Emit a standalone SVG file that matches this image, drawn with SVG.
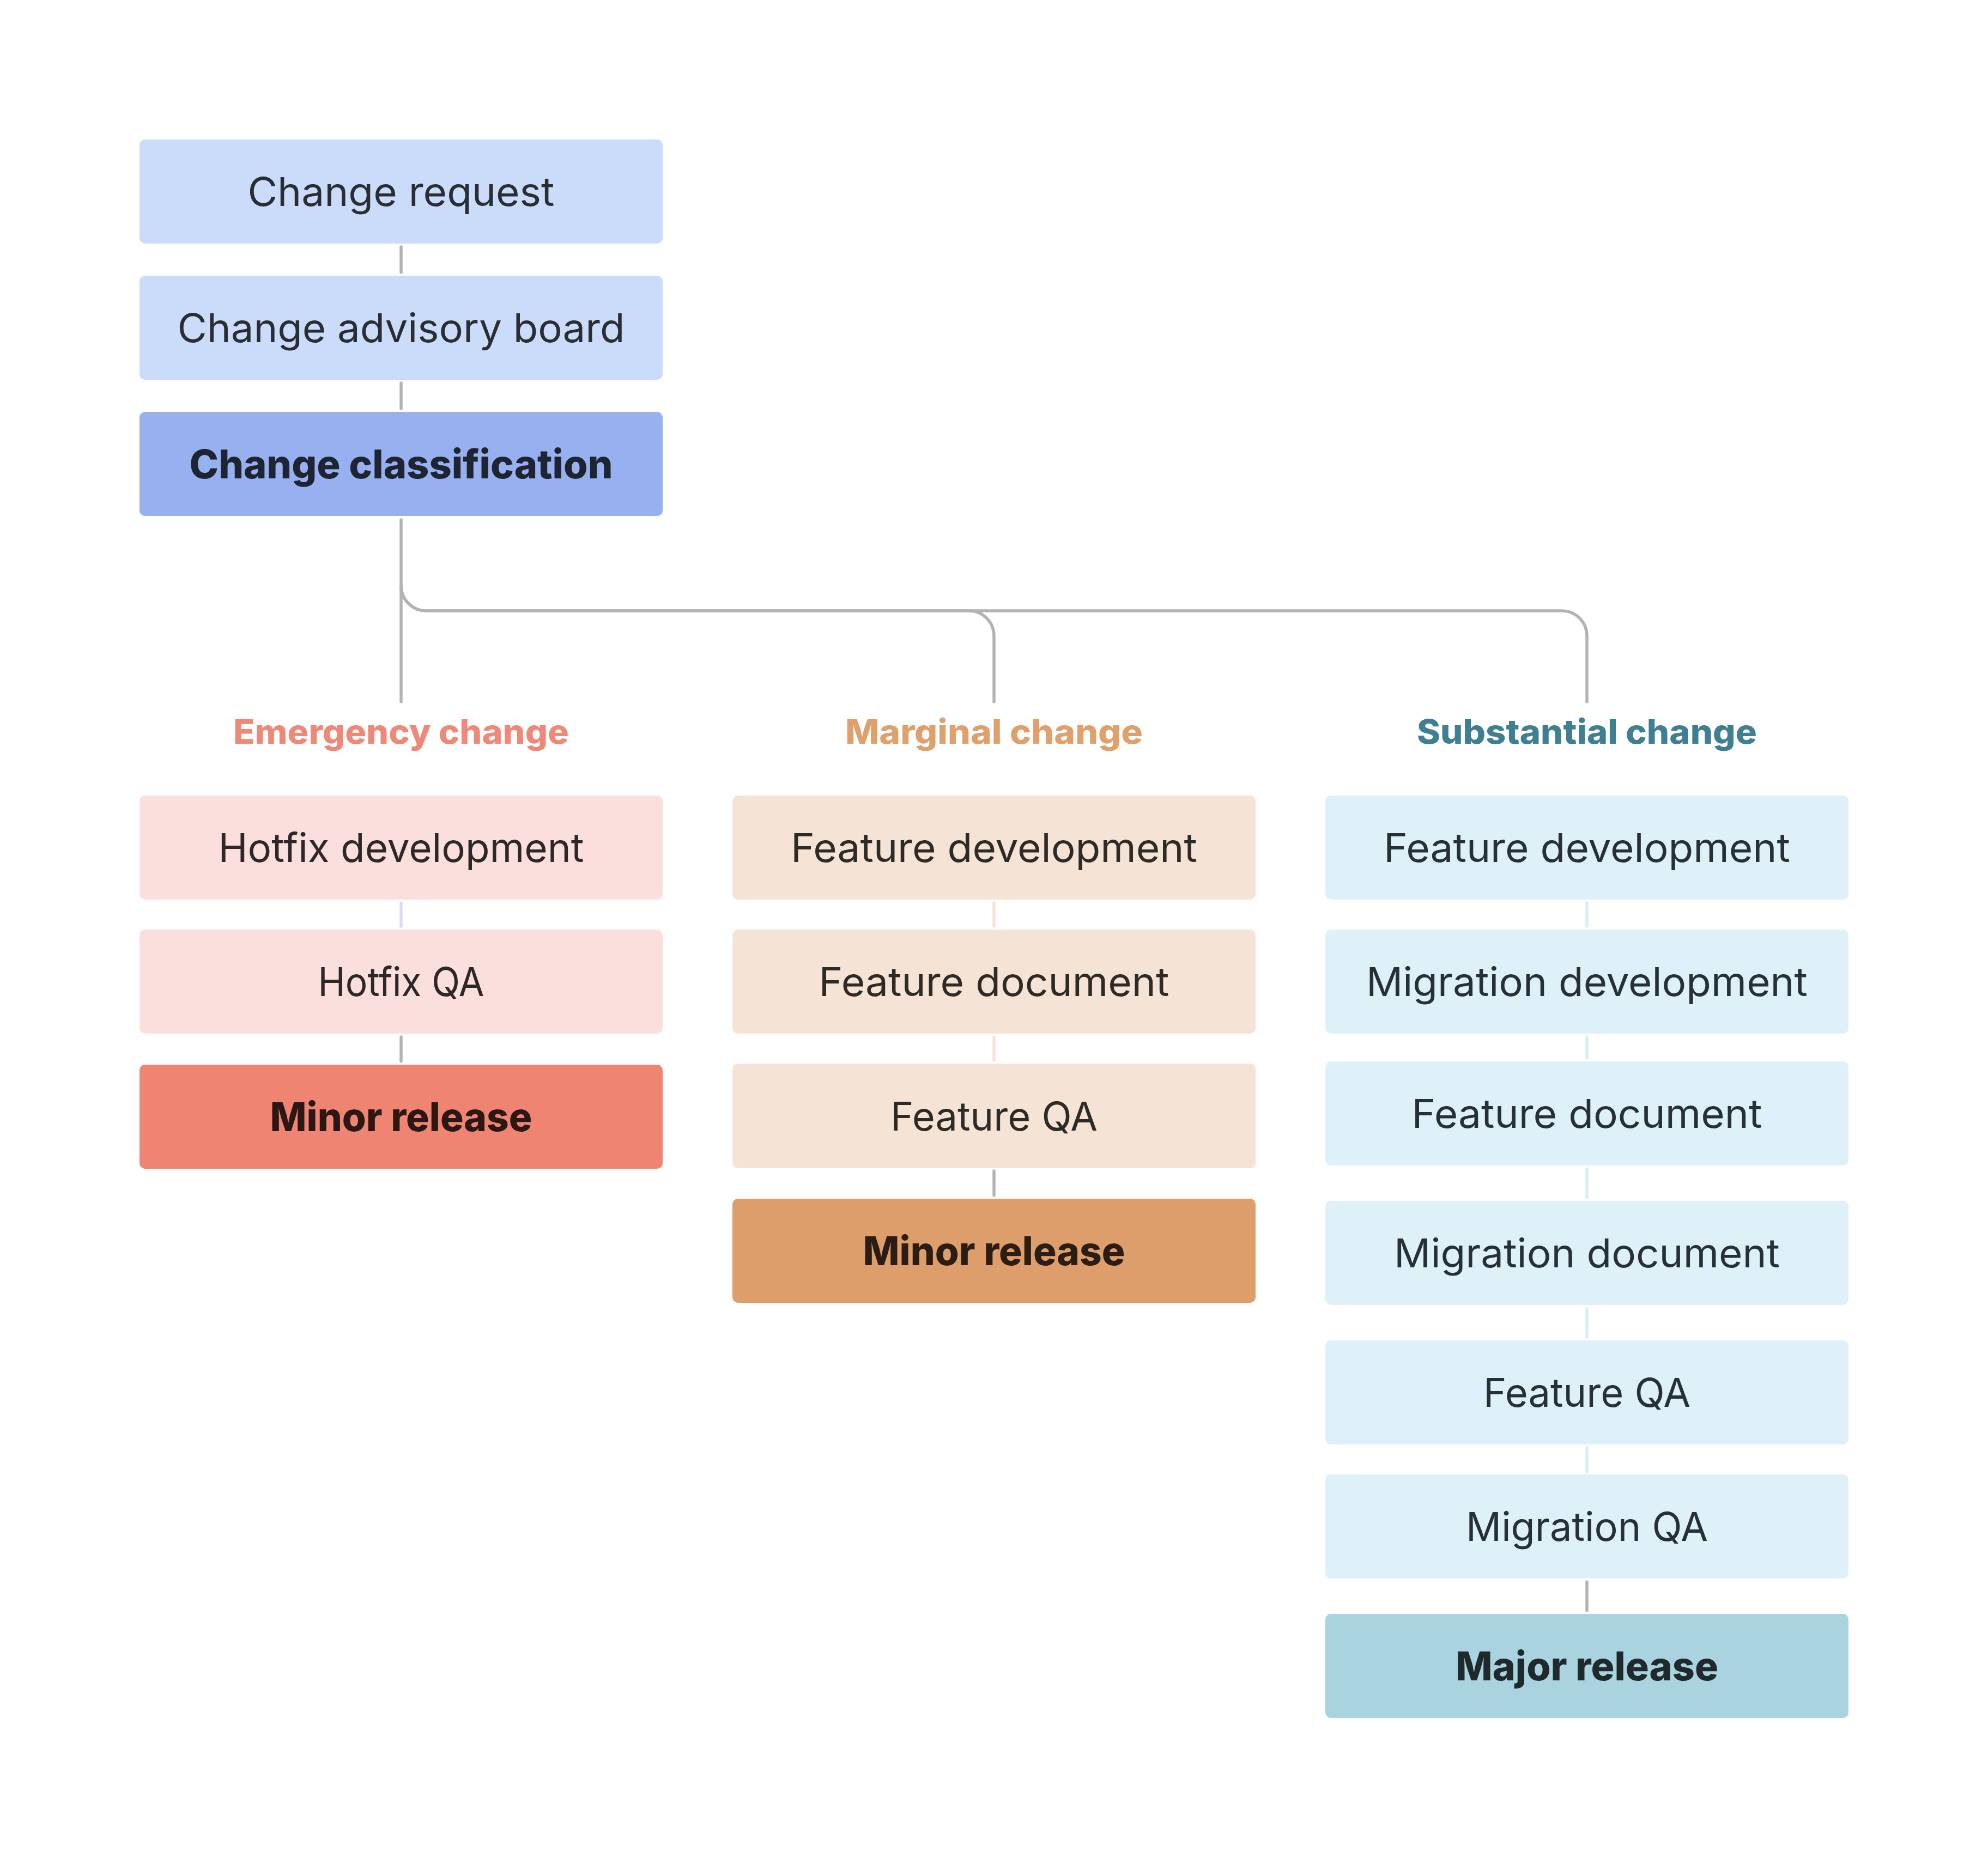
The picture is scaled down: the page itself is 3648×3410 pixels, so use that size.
<svg xmlns="http://www.w3.org/2000/svg" width="3648" height="3410" viewBox="0 0 3648 3410">
<style>
.t{font-family:Inter,"Open Sans","Liberation Sans",sans-serif;font-size:73px;text-anchor:middle}
.b{font-weight:800}
.lbl{font-family:Inter,"Open Sans","Liberation Sans",sans-serif;font-size:62px;font-weight:800;text-anchor:middle}
.c{fill:none;stroke:#b3b3b3;stroke-width:5.5;stroke-linecap:round}
.cl{fill:none;stroke:#dcdaf5;stroke-width:5.5;stroke-linecap:round}
.cp{fill:none;stroke:#f5e3d6;stroke-width:5.5;stroke-linecap:round}
.cb{fill:none;stroke:#d8eef7;stroke-width:5.5;stroke-linecap:round}
</style>
<rect width="3648" height="3410" fill="#ffffff"/>
<g id="connectors">
<path class="c" d="M736 453V500"/>
<path class="c" d="M736 703V750"/>
<path class="c" d="M736 954V1288"/>
<path class="c" d="M736 1075A46 46 0 0 0 782 1121H1778A46 46 0 0 1 1824 1167V1288"/>
<path class="c" d="M736 1075A46 46 0 0 0 782 1121H2866A46 46 0 0 1 2912 1167V1288"/>
<path class="cl" d="M736 1657V1700"/>
<path class="c" d="M736 1903V1948"/>
<path class="cp" d="M1824 1657V1700"/>
<path class="cp" d="M1824 1903V1946"/>
<path class="c" d="M1824 2149V2194"/>
<path class="cb" d="M2912 1657V1700"/>
<path class="cb" d="M2912 1903V1942"/>
<path class="cb" d="M2912 2145V2198"/>
<path class="cb" d="M2912 2402V2454"/>
<path class="cb" d="M2912 2657V2701"/>
<path class="c" d="M2912 2903V2956"/>
</g>
<g id="change-request"><rect x="256" y="256" width="960" height="191" rx="10" fill="#cbdcfb"/><text class="t" x="736" y="378" fill="#2a2d34" textLength="563" lengthAdjust="spacingAndGlyphs">Change request</text></g>
<g id="change-advisory-board"><rect x="256" y="506" width="960" height="191" rx="10" fill="#cbdcfb"/><text class="t" x="736" y="628" fill="#2a2d34" textLength="821" lengthAdjust="spacingAndGlyphs">Change advisory board</text></g>
<g id="change-classification"><rect x="256" y="756" width="960" height="191" rx="10" fill="#96b0f0"/><text class="t b" x="736" y="878" fill="#1f2433" textLength="777" lengthAdjust="spacingAndGlyphs">Change classification</text></g>
<g id="label-emergency"><text class="lbl" x="736" y="1365" fill="#f08878" textLength="616" lengthAdjust="spacingAndGlyphs">Emergency change</text></g>
<g id="label-marginal"><text class="lbl" x="1824" y="1365" fill="#e0a06c" textLength="546" lengthAdjust="spacingAndGlyphs">Marginal change</text></g>
<g id="label-substantial"><text class="lbl" x="2912" y="1365" fill="#3f7f92" textLength="624" lengthAdjust="spacingAndGlyphs">Substantial change</text></g>
<g id="hotfix-development"><rect x="256" y="1460" width="960" height="191" rx="10" fill="#fadfdc"/><text class="t" x="736" y="1582" fill="#2e2727" textLength="671" lengthAdjust="spacingAndGlyphs">Hotfix development</text></g>
<g id="hotfix-qa"><rect x="256" y="1706" width="960" height="191" rx="10" fill="#fadfdc"/><text class="t" x="736" y="1828" fill="#2e2727" textLength="305" lengthAdjust="spacingAndGlyphs">Hotfix QA</text></g>
<g id="minor-release-1"><rect x="256" y="1954" width="960" height="191" rx="10" fill="#ef8472"/><text class="t b" x="736" y="2076" fill="#2b1714" textLength="481" lengthAdjust="spacingAndGlyphs">Minor release</text></g>
<g id="m-feature-development"><rect x="1344" y="1460" width="960" height="191" rx="10" fill="#f5e3d6"/><text class="t" x="1824" y="1582" fill="#2e2a26" textLength="746" lengthAdjust="spacingAndGlyphs">Feature development</text></g>
<g id="m-feature-document"><rect x="1344" y="1706" width="960" height="191" rx="10" fill="#f5e3d6"/><text class="t" x="1824" y="1828" fill="#2e2a26" textLength="643" lengthAdjust="spacingAndGlyphs">Feature document</text></g>
<g id="m-feature-qa"><rect x="1344" y="1952" width="960" height="192" rx="10" fill="#f5e3d6"/><text class="t" x="1824" y="2075" fill="#2e2a26" textLength="380" lengthAdjust="spacingAndGlyphs">Feature QA</text></g>
<g id="minor-release-2"><rect x="1344" y="2200" width="960" height="191" rx="10" fill="#de9e6c"/><text class="t b" x="1824" y="2322" fill="#2b1d13" textLength="481" lengthAdjust="spacingAndGlyphs">Minor release</text></g>
<g id="s-feature-development"><rect x="2432" y="1460" width="960" height="191" rx="10" fill="#dff1f8"/><text class="t" x="2912" y="1582" fill="#263036" textLength="746" lengthAdjust="spacingAndGlyphs">Feature development</text></g>
<g id="s-migration-development"><rect x="2432" y="1706" width="960" height="191" rx="10" fill="#dff1f8"/><text class="t" x="2912" y="1828" fill="#263036" textLength="810" lengthAdjust="spacingAndGlyphs">Migration development</text></g>
<g id="s-feature-document"><rect x="2432" y="1948" width="960" height="191" rx="10" fill="#dff1f8"/><text class="t" x="2912" y="2070" fill="#263036" textLength="643" lengthAdjust="spacingAndGlyphs">Feature document</text></g>
<g id="s-migration-document"><rect x="2432" y="2204" width="960" height="191" rx="10" fill="#dff1f8"/><text class="t" x="2912" y="2326" fill="#263036" textLength="708" lengthAdjust="spacingAndGlyphs">Migration document</text></g>
<g id="s-feature-qa"><rect x="2432" y="2460" width="960" height="191" rx="10" fill="#dff1f8"/><text class="t" x="2912" y="2582" fill="#263036" textLength="380" lengthAdjust="spacingAndGlyphs">Feature QA</text></g>
<g id="s-migration-qa"><rect x="2432" y="2706" width="960" height="191" rx="10" fill="#dff1f8"/><text class="t" x="2912" y="2828" fill="#263036" textLength="444" lengthAdjust="spacingAndGlyphs">Migration QA</text></g>
<g id="major-release"><rect x="2432" y="2962" width="960" height="191" rx="10" fill="#a9d3df"/><text class="t b" x="2912" y="3084" fill="#20292c" textLength="482" lengthAdjust="spacingAndGlyphs">Major release</text></g>
</svg>
